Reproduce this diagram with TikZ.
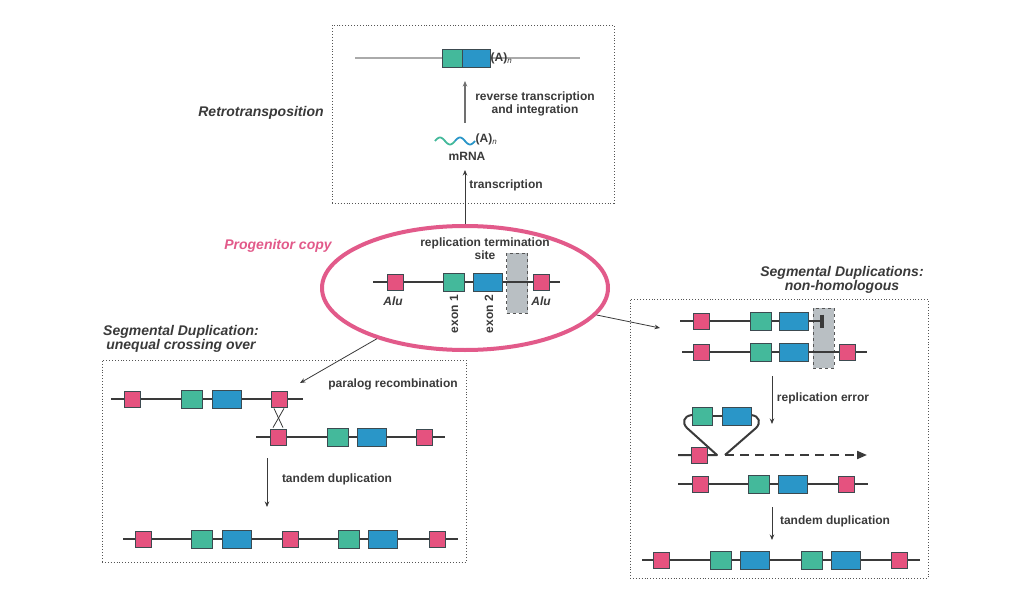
\documentclass[tikz,border=0pt]{standalone}
\usepackage{fontspec}
\setmainfont{Liberation Sans}
\usetikzlibrary{arrows.meta,shapes.geometric,calc}
\definecolor{alucol}{HTML}{E5527F}
\definecolor{ringcol}{HTML}{E25A8A}
\definecolor{exacol}{HTML}{44B99B}
\definecolor{exbcol}{HTML}{2A96C8}
\definecolor{termcol}{HTML}{B9BFC3}
\definecolor{linecol}{HTML}{3A3A3A}
\definecolor{boxline}{HTML}{3C4A50}
\definecolor{txtcol}{HTML}{3A3A3A}
\definecolor{framecol}{HTML}{555555}
\definecolor{glinecol}{HTML}{AAAAAA}
\definecolor{rtarrcol}{HTML}{707070}
\tikzset{
  dna/.style={line width=2pt, draw=linecol},
  alu/.style={draw=boxline, fill=alucol, line width=0.8pt, minimum width=16pt, minimum height=16pt, inner sep=0pt},
  exa/.style={draw=boxline, fill=exacol, line width=0.8pt, minimum width=21pt, minimum height=18pt, inner sep=0pt},
  exb/.style={draw=boxline, fill=exbcol, line width=0.8pt, minimum width=29pt, minimum height=18pt, inner sep=0pt},
  termbox/.style={draw=framecol, dashed, fill=termcol, line width=0.9pt, minimum width=21pt, minimum height=60pt, inner sep=0pt},
  lbl/.style={font=\bfseries\fontsize{12}{13}\selectfont, text=txtcol, align=center, inner sep=0pt},
  ttl/.style={font=\bfseries\itshape\fontsize{14}{14}\selectfont, text=txtcol, align=center, inner sep=0pt},
  itl/.style={font=\bfseries\itshape\fontsize{12}{13}\selectfont, text=txtcol, inner sep=0pt},
  frame/.style={draw=framecol, dotted, line width=0.9pt, inner sep=0pt},
  arr/.style={-{Stealth[length=5.5pt,width=4.5pt]}, line width=0.8pt, draw=linecol},
}
\newcommand{\polyA}{(A)\raisebox{-2.5pt}{\mdseries\itshape\fontsize{8}{8}\selectfont n}}
\begin{document}
\begin{tikzpicture}[x=1pt,y=-1pt]
\useasboundingbox (0,0) rectangle (1028,615);
\fill[white] (0,0) rectangle (1028,615);

% ---------- frames ----------
\node[frame, minimum width=282pt, minimum height=178pt] (topbox) at (473,114) {};
\node[frame, minimum width=364pt, minimum height=202pt] (leftbox) at (284,461) {};
\node[frame, minimum width=298pt, minimum height=279pt] (rightbox) at (779,438.5) {};

% ---------- titles ----------
\node[ttl] (tretro) at (261,113) {Retrotransposition};
\node[ttl, text=ringcol] (tprog) at (278,246) {Progenitor copy};
\node[ttl] (tleft) at (181,339) {Segmental Duplication:\\unequal crossing over};
\node[ttl] (tright) at (842,280) {Segmental Duplications:\\non-homologous};

% ---------- top box ----------
\draw[line width=2pt, draw=glinecol] (355,58) -- (580,58);
\node[exa, minimum width=20pt] (tga) at (452,58) {};
\node[exb, minimum width=28pt] (tgb) at (476,58) {};
\node[lbl, anchor=west] (tpa) at (490.5,58) {\polyA};
\coordinate (rtlow) at (465,123);
\coordinate (rthigh) at (465,81);
\draw[arr, line width=1.4pt, draw=rtarrcol] (rtlow) -- (rthigh);
\node[lbl] (trev) at (535,104) {reverse transcription\\and integration};
\draw[line width=1.8pt, draw=exacol, domain=0:20, samples=30, smooth, variable=\t] plot ({435+\t},{141-3.5*sin(18*\t)});
\draw[line width=1.8pt, draw=exbcol, domain=20:40, samples=30, smooth, variable=\t] plot ({435+\t},{141-3.5*sin(18*\t)});
\node[lbl, anchor=west] (mpa) at (475.5,139) {\polyA};
\node[lbl] (mrna) at (467,156) {mRNA};
\node[lbl] (ttrans) at (506,185) {transcription};

% ---------- progenitor ----------
\node[draw=ringcol, ellipse, line width=4pt, minimum width=286pt, minimum height=124pt, inner sep=0pt] (prog) at (465,288) {};
\coordinate (trtop) at (465,170);
\draw[arr] (prog) -- (trtop);
\node[termbox] (pterm) at (517,283) {};
\draw[dna] (373,282) -- (560,282);
\node[alu] (pa1) at (395,282) {};
\node[exa] (pe1) at (453.5,282) {};
\node[exb] (pe2) at (488,282) {};
\node[alu] (pa2) at (541,282) {};
\node[lbl] (prts) at (485,248.5) {replication termination\\site};
\node[itl] (palu1) at (393,301) {Alu};
\node[itl] (palu2) at (541,301) {Alu};
\node[lbl, rotate=90] (pex1) at (454,314) {exon 1};
\node[lbl, rotate=90] (pex2) at (489,314) {exon 2};

\coordinate (lefttip) at (300,383);
\coordinate (righttip) at (660,328);
\draw[arr] (prog) -- (lefttip);
\draw[arr] (prog) -- (righttip);

% ---------- left box ----------
\draw[dna] (111,399) -- (303,399);
\node[alu] (l1a) at (132,399) {};
\node[exa] (l1e) at (191.5,399) {};
\node[exb] (l1f) at (226.5,399) {};
\node[alu] (l1b) at (279,399) {};
\draw[dna] (256,437) -- (445,437);
\node[alu] (l2a) at (278,437) {};
\node[exa] (l2e) at (337.5,437) {};
\node[exb] (l2f) at (372,437) {};
\node[alu] (l2b) at (424.5,437) {};
\draw[line width=0.8pt, draw=linecol] ($(l1b.south)+(-5,1)$) -- ($(l2a.north)+(5,-1)$);
\draw[line width=0.8pt, draw=linecol] ($(l1b.south)+(5,1)$) -- ($(l2a.north)+(-5,-1)$);
\node[lbl] (lpar) at (393,384) {paralog recombination};
\coordinate (ld1) at (267,458);
\coordinate (ld2) at (267,507);
\draw[arr] (ld1) -- (ld2);
\node[lbl] (ltan) at (337,479) {tandem duplication};
\draw[dna] (123,539) -- (458,539);
\node[alu] (l3a) at (143.5,539) {};
\node[exa] (l3e) at (202,539) {};
\node[exb] (l3f) at (236.5,539) {};
\node[alu] (l3b) at (290,539) {};
\node[exa] (l3g) at (348.5,539) {};
\node[exb] (l3h) at (382.5,539) {};
\node[alu] (l3c) at (437,539) {};

% ---------- right box ----------
\node[termbox] (rterm) at (823.5,338) {};
\draw[dna] (680,321) -- (822,321);
\draw[line width=3.5pt, draw=linecol] (822,314.5) -- (822,328);
\node[alu] (r1a) at (701,321) {};
\node[exa] (r1e) at (760.5,321) {};
\node[exb] (r1f) at (793.5,321) {};
\draw[dna] (682,352) -- (867,352);
\node[alu] (r2a) at (701,352) {};
\node[exa] (r2e) at (760.5,352) {};
\node[exb] (r2f) at (793.5,352) {};
\node[alu] (r2b) at (847.5,352) {};
\coordinate (rd1) at (772,376);
\coordinate (rd2) at (772,424);
\draw[arr] (rd1) -- (rd2);
\node[lbl] (rrep) at (823,398) {replication error};
% loop
\draw[dna] (702,416) -- (736,416);
\draw[dna, line join=round] (692,415) .. controls (683,416) and (682,423) .. (687,428) -- (717,455) -- (678,455);
\draw[dna, line join=round] (751,415) .. controls (760,416) and (761,423) .. (756,428) -- (725,455);
\node[exa, minimum width=20pt] (r3e) at (702,416) {};
\node[exb] (r3f) at (736.5,416) {};
\node[alu] (r3a) at (699,455) {};
\coordinate (dashend) at (867,455);
\coordinate (dashstart) at (725,455);
\draw[line width=2pt, draw=linecol, dash pattern=on 9pt off 6pt, -{Triangle[length=10pt,width=8pt]}] (dashstart) -- (dashend);
\draw[dna] (678,484) -- (868,484);
\node[alu] (r4a) at (700,484) {};
\node[exa] (r4e) at (758.5,484) {};
\node[exb] (r4f) at (792.5,484) {};
\node[alu] (r4b) at (846,484) {};
\coordinate (rd3) at (772,507);
\coordinate (rd4) at (772,540);
\draw[arr] (rd3) -- (rd4);
\node[lbl] (rtan) at (835,521) {tandem duplication};
\draw[dna] (642,560) -- (920,560);
\node[alu] (r5a) at (661,560) {};
\node[exa] (r5e) at (721,560) {};
\node[exb] (r5f) at (754.5,560) {};
\node[exa] (r5g) at (812,560) {};
\node[exb] (r5h) at (845.5,560) {};
\node[alu] (r5b) at (899.5,560) {};
\end{tikzpicture}
\end{document}
